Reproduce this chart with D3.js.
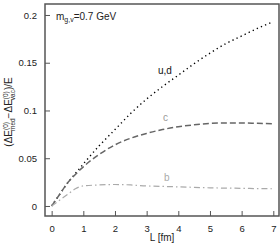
<!DOCTYPE html>
<html><head><meta charset="utf-8">
<script src="https://cdn.jsdelivr.net/npm/d3@7"></script>
<style>body{margin:0;background:#fff}svg{display:block;font-family:"Liberation Sans",Arial,sans-serif}</style>
</head><body><div id="c"></div>
<script>
const L = [0, 0.25, 0.5, 0.75, 1, 1.5, 2, 2.5, 3, 3.5, 4, 4.5, 5, 5.5, 6, 6.5, 7];
const ud = [0, 0.012, 0.024, 0.034, 0.044, 0.063, 0.080, 0.097, 0.112, 0.125, 0.137, 0.149, 0.160, 0.170, 0.178, 0.186, 0.193];
const cq = [0, 0.012, 0.024, 0.033, 0.041, 0.054, 0.064, 0.071, 0.076, 0.080, 0.083, 0.085, 0.0865, 0.087, 0.087, 0.0865, 0.086];
const bq = [0, 0.006, 0.012, 0.018, 0.021, 0.022, 0.0225, 0.022, 0.021, 0.0205, 0.020, 0.0195, 0.019, 0.0187, 0.0185, 0.0182, 0.018];
const xTicks = [0, 1, 2, 3, 4, 5, 6, 7];
const yTicks = [0, 0.05, 0.1, 0.15, 0.2];
const yTickLabels = ["0", "0.05", "0.1", "0.15", "0.2"];

(function () {
const W = 280, H = 245;
const pl = 45, pr = 279, pt = 4, pb = 216;
const svg = d3.select("#c").append("svg").attr("width", W).attr("height", H);

const x = d3.scaleLinear().domain([-0.21, 7.18]).range([pl, pr]);
const y = d3.scaleLinear().domain([-0.0105, 0.2115]).range([pb, pt]);

const series = [
  {vals: ud, color: "#000", dash: "1.3,3.2", w: 1.4},
  {vals: cq, color: "#666", dash: "6,3", w: 1.5},
  {vals: bq, color: "#aaa", dash: "6,3,1.5,3", w: 1.2}
];
const line = d3.line().curve(d3.curveMonotoneX);
series.forEach(s => {
  svg.append("path")
    .attr("d", line(L.map((l, i) => [x(l), y(s.vals[i])])))
    .attr("fill", "none").attr("stroke", s.color)
    .attr("stroke-width", s.w).attr("stroke-dasharray", s.dash);
});

const xAxis = d3.axisBottom(x).tickValues(xTicks).tickSize(-5).tickPadding(9).tickFormat(d3.format("d"));
const yAxis = d3.axisLeft(y).tickValues(yTicks).tickSize(-5).tickPadding(8).tickFormat((d, i) => yTickLabels[i]);
const gx = svg.append("g").attr("transform", `translate(0,${pb})`).call(xAxis);
const gy = svg.append("g").attr("transform", `translate(${pl},0)`).call(yAxis);
[gx, gy].forEach(g => {
  g.select(".domain").remove();
  g.selectAll(".tick line").attr("stroke", "#555").attr("stroke-width", 1);
  g.selectAll(".tick text").attr("fill", "#222").attr("font-size", 9.5)
    .attr("font-family", "Liberation Sans, Arial, sans-serif");
});

svg.append("rect").attr("x", pl).attr("y", pt).attr("width", pr - pl).attr("height", pb - pt)
  .attr("fill", "none").attr("stroke", "#555").attr("stroke-width", 1.5);

svg.append("text").attr("x", (pl + pr) / 2).attr("y", 241).attr("text-anchor", "middle")
  .attr("font-size", 10).attr("fill", "#222").text("L [fm]");

const mt = svg.append("text").attr("x", 56).attr("y", 20).attr("font-size", 10).attr("fill", "#222");
mt.append("tspan").text("m");
mt.append("tspan").attr("font-size", 7).attr("dy", 2).text("g,v");
mt.append("tspan").attr("dy", -2).text("=0.7 GeV");

svg.append("text").attr("x", 158).attr("y", 74).attr("font-size", 10).attr("fill", "#111").text("u,d");
svg.append("text").attr("x", 163).attr("y", 121).attr("font-size", 10).attr("fill", "#999").text("c");
svg.append("text").attr("x", 164).attr("y", 181).attr("font-size", 10).attr("fill", "#aaa").text("b");

const yt = svg.append("text").attr("transform", "translate(12,112) rotate(-90)")
  .attr("text-anchor", "middle").attr("font-size", 10).attr("fill", "#222");
yt.append("tspan").text("(ΔE");
yt.append("tspan").attr("font-size", 6.5).attr("dy", -4).text("(0)");
yt.append("tspan").attr("font-size", 6.5).attr("dx", -9).attr("dy", 7).text("med");
yt.append("tspan").attr("dy", -3).text("−ΔE");
yt.append("tspan").attr("font-size", 6.5).attr("dy", -4).text("(0)");
yt.append("tspan").attr("font-size", 6.5).attr("dx", -9).attr("dy", 7).text("vac");
yt.append("tspan").attr("dy", -3).text(")/E");
})();
</script></body></html>
